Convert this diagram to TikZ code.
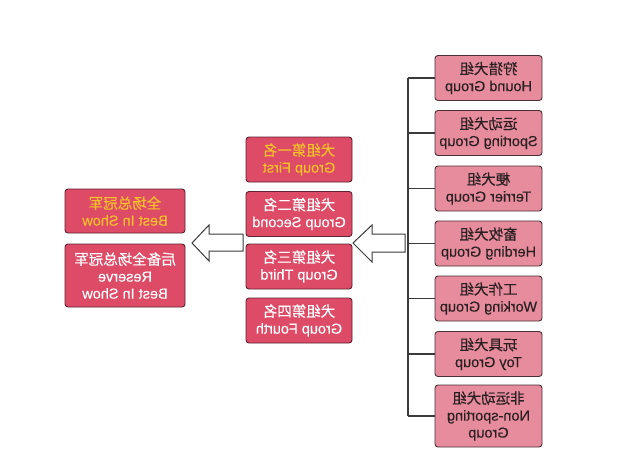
\documentclass[tikz,border=0pt]{standalone}
\usepackage{fontspec}
\setmainfont[FakeBold=0.25]{Liberation Sans}
\newfontfamily\cjk[FakeBold=0.35]{Noto Sans CJK SC}
\definecolor{rfill}{HTML}{E68C9C}
\definecolor{rdraw}{HTML}{4A3035}
\definecolor{mfill}{HTML}{DE4B66}
\definecolor{mdraw}{HTML}{5E2232}
\definecolor{ytext}{HTML}{F5C02A}
\definecolor{dtext}{HTML}{2A2022}
\definecolor{lncol}{HTML}{3A3A3A}
\begin{document}
\begin{tikzpicture}[x=1pt,y=-1pt,
  basebox/.style={rounded corners=3pt, line width=0.9pt, align=center, inner sep=0pt,
    xscale=-1, font=\fontsize{14.5}{17}\selectfont},
  rbox/.style={basebox, draw=rdraw, fill=rfill, text=dtext, minimum width=107pt, minimum height=45pt},
  mbox/.style={basebox, draw=mdraw, fill=mfill, text=white, minimum width=106pt, minimum height=45pt},
  lbox/.style={basebox, draw=mdraw, fill=mfill, text=white, minimum width=120pt, minimum height=44pt},
  link/.style={draw=lncol, line width=1.4pt},
  hollow/.style={draw=lncol, fill=white, line width=1pt, line join=miter}
]
\useasboundingbox (0,0) rectangle (620,459);
\fill[white] (0,0) rectangle (620,459);

% right column
\node[rbox] (r1) at (488.5,78) {{\cjk 狩猎犬组}\\Hound Group};
\node[rbox] (r2) at (488.5,133) {{\cjk 运动犬组}\\Sporting Group};
\node[rbox] (r3) at (488.5,188.5) {{\cjk 梗犬组}\\Terrier Group};
\node[rbox] (r4) at (488.5,243.5) {{\cjk 畜牧犬组}\\Herding Group};
\node[rbox] (r5) at (488.5,298.5) {{\cjk 工作犬组}\\Working Group};
\node[rbox] (r6) at (488.5,354) {{\cjk 玩具犬组}\\Toy Group};
\node[rbox, minimum height=62pt] (r7) at (488.5,416) {{\cjk 非运动犬组}\\Non-sporting\\Group};

% bracket
\coordinate (vt) at (408,78);
\coordinate (vb) at (408,416);
\draw[link] (vt) -- (vb);
\foreach \i in {1,...,7}{
  \draw[link] (r\i.east -| vt) -- (r\i.east);
}

% middle column
\node[mbox, text=ytext] (m1) at (299,159.5) {{\cjk 犬组第一名}\\Group First};
\node[mbox] (m2) at (299,214) {{\cjk 犬组第二名}\\Group Second};
\node[mbox] (m3) at (299,266.5) {{\cjk 犬组第三名}\\Group Third};
\node[mbox] (m4) at (299,320.5) {{\cjk 犬组第四名}\\Group Fourth};

% left column
\node[lbox, text=ytext] (l1) at (125,211) {{\cjk 全场总冠军}\\Best In Show};
\node[lbox, minimum height=63pt] (l2) at (125,275.5) {{\cjk 后备全场总冠军}\\Reserve\\Best In Show};

% hollow arrows
\draw[hollow] (353,243) -- (372,225) -- (372,234) -- (405,234) -- (405,252) -- (372,252) -- (372,262) -- cycle;
\draw[hollow] (192,243) -- (209,225) -- (209,234) -- (243,234) -- (243,251) -- (209,251) -- (209,261) -- cycle;
\end{tikzpicture}
\end{document}
